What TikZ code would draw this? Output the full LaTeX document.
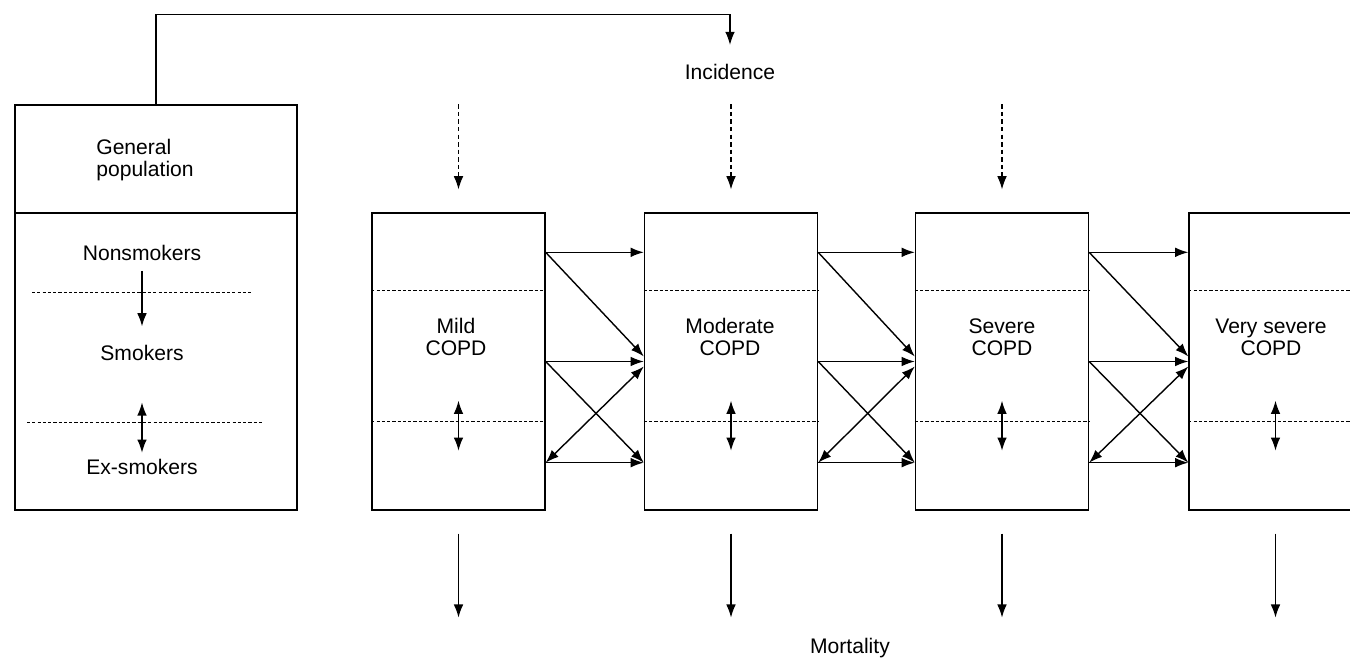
\documentclass[tikz,border=0pt]{standalone}
\usepackage{fontspec}
\setmainfont{Liberation Sans}
\usetikzlibrary{arrows.meta}

\begin{document}
\begin{tikzpicture}[x=0.02cm, y=-0.02cm, line width=0.8pt, >={Latex[length=7.5pt,width=5.5pt]},
    every node/.style={font=\fontsize{12}{12.5}\selectfont},
    stage/.style={draw, minimum width=3.46cm, minimum height=5.94cm, inner sep=0pt},
    sep/.style={line width=0.5pt, dash pattern=on 1.8pt off 1.2pt},
    inflow/.style={->, line width=0.6pt, dash pattern=on 2.5pt off 1.8pt}]
  \useasboundingbox (0,0) rectangle (1350,658);
  \clip (0,0) rectangle (1350,658);
         \node [draw, minimum width=5.64cm, minimum height=2.16cm, inner sep=0pt] (GP) at (156,159) {}; 
         \node [draw, minimum width=5.64cm, minimum height=5.94cm, inner sep=0pt] (SM) at (156,361.5) {}; 
         \node [align=left] (GPt) at (145,160) {General\\population}; 
         \node (NS) at (142,253) {Nonsmokers}; 
         \node (S) at (142,353) {Smokers}; 
         \node (ES) at (142,467) {Ex-smokers}; 
         \draw [sep] (32,292) -- (253,292); 
         \draw [sep] (27,422) -- (264,422); 
         \draw [->, shorten <=2pt, shorten >=7pt] (NS) -- (S); 
         \draw [<->, shorten <=20pt] (S) -- (ES); 
         \node (inc) at (730,72) {Incidence}; 
         \coordinate (incin) at (730,45); 
         \draw [->] (GP.north) -- ++(0,-90) -| (incin); 
         \node (mort) at (850,648) {Mortality}; 
         \node [stage] (mild) at (458.5,361.5) {}; 
         \node [stage] (mod) at (731,361.5) {}; 
         \node [stage] (sev) at (1002,361.5) {}; 
         \node [stage] (vsev) at (1275.5,361.5) {}; 
         \node [align=center] (mildt) at (456,337) {Mild\\COPD}; 
         \node [align=center] (modt) at (730,337) {Moderate\\COPD}; 
         \node [align=center] (sevt) at (1002,337) {Severe\\COPD}; 
         \node [align=center] (vsevt) at (1271,337) {Very severe\\COPD}; 
         \draw [sep] ([yshift=-1.56cm]mild.north west) -- ([yshift=-1.56cm]mild.north east); 
         \draw [sep] ([yshift=1.78cm]mild.south west) -- ([yshift=1.78cm]mild.south east); 
         \draw [sep] ([yshift=-1.56cm]mod.north west) -- ([yshift=-1.56cm]mod.north east); 
         \draw [sep] ([yshift=1.78cm]mod.south west) -- ([yshift=1.78cm]mod.south east); 
         \draw [sep] ([yshift=-1.56cm]sev.north west) -- ([yshift=-1.56cm]sev.north east); 
         \draw [sep] ([yshift=1.78cm]sev.south west) -- ([yshift=1.78cm]sev.south east); 
         \draw [sep] ([yshift=-1.56cm]vsev.north west) -- ([yshift=-1.56cm]vsev.north east); 
         \draw [sep] ([yshift=1.78cm]vsev.south west) -- ([yshift=1.78cm]vsev.south east); 
         \draw [<->] ([yshift=2.2cm]mild.south) -- ([yshift=1.2cm]mild.south); 
         \draw [<->] ([yshift=2.2cm]mod.south) -- ([yshift=1.2cm]mod.south); 
         \draw [<->] ([yshift=2.2cm]sev.south) -- ([yshift=1.2cm]sev.south); 
         \draw [<->] ([yshift=2.2cm]vsev.south) -- ([yshift=1.2cm]vsev.south); 
         \draw [inflow] ([yshift=2.16cm]mild.north) -- ([yshift=0.46cm]mild.north); 
         \draw [inflow] ([yshift=2.16cm]mod.north) -- ([yshift=0.46cm]mod.north); 
         \draw [inflow] ([yshift=2.16cm]sev.north) -- ([yshift=0.46cm]sev.north); 
         \draw [->] ([yshift=-0.46cm]mild.south) -- ([yshift=-2.14cm]mild.south); 
         \draw [->] ([yshift=-0.46cm]mod.south) -- ([yshift=-2.14cm]mod.south); 
         \draw [->] ([yshift=-0.46cm]sev.south) -- ([yshift=-2.14cm]sev.south); 
         \draw [->] ([yshift=-0.46cm]vsev.south) -- ([yshift=-2.14cm]vsev.south); 
         \draw [->] ([yshift=-0.8cm]mild.north east) -- ([yshift=-0.8cm]mod.north west); 
         \draw [->] ([yshift=-0.8cm]mild.north east) -- ([yshift=0.1cm]mod.west); 
         \draw [->] (mild.east) -- (mod.west); 
         \draw [->] (mild.east) -- ([yshift=0.96cm]mod.south west); 
         \draw [<->] ([yshift=0.96cm]mild.south east) -- ([yshift=-0.1cm]mod.west); 
         \draw [->] ([yshift=0.96cm]mild.south east) -- ([yshift=0.96cm]mod.south west); 
         \draw [->] ([yshift=-0.8cm]mod.north east) -- ([yshift=-0.8cm]sev.north west); 
         \draw [->] ([yshift=-0.8cm]mod.north east) -- ([yshift=0.1cm]sev.west); 
         \draw [->] (mod.east) -- (sev.west); 
         \draw [->] (mod.east) -- ([yshift=0.96cm]sev.south west); 
         \draw [<->] ([yshift=0.96cm]mod.south east) -- ([yshift=-0.1cm]sev.west); 
         \draw [->] ([yshift=0.96cm]mod.south east) -- ([yshift=0.96cm]sev.south west); 
         \draw [->] ([yshift=-0.8cm]sev.north east) -- ([yshift=-0.8cm]vsev.north west); 
         \draw [->] ([yshift=-0.8cm]sev.north east) -- ([yshift=0.1cm]vsev.west); 
         \draw [->] (sev.east) -- (vsev.west); 
         \draw [->] (sev.east) -- ([yshift=0.96cm]vsev.south west); 
         \draw [<->] ([yshift=0.96cm]sev.south east) -- ([yshift=-0.1cm]vsev.west); 
         \draw [->] ([yshift=0.96cm]sev.south east) -- ([yshift=0.96cm]vsev.south west); 
\end{tikzpicture}
\end{document}
